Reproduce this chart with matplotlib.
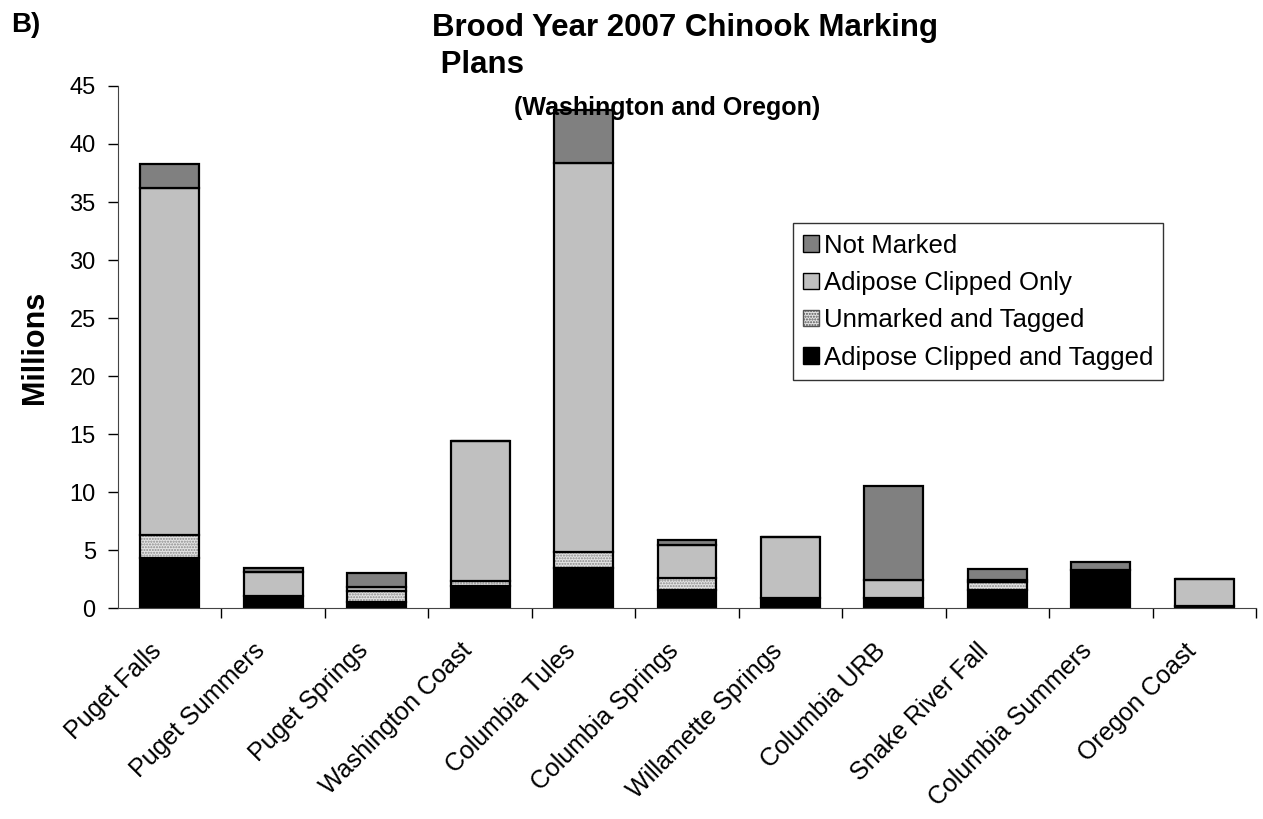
"""Brood year 2007 Chinook marking plans (Washington and Oregon), stacked bars."""

import matplotlib

matplotlib.use("Agg")
import matplotlib.pyplot as plt
import numpy as np
from matplotlib.patches import Patch

plt.rcParams["font.family"] = ["Liberation Sans", "DejaVu Sans"]

stocks = ["Puget Falls", "Puget Summers", "Puget Springs", "Washington Coast",
          "Columbia Tules", "Columbia Springs", "Willamette Springs",
          "Columbia URB", "Snake River Fall", "Columbia Summers", "Oregon Coast"]

# millions of fish, bottom to top of each stack
clipped_tagged = [4.3, 1.0, 0.55, 1.9, 3.47, 1.57, 0.86, 0.86, 1.58, 3.25, 0.15]
unmarked_tagged = [2.0, 0.05, 0.95, 0.4, 1.33, 1.0, 0.0, 0.0, 0.7, 0.0, 0.0]
clipped_only = [29.9, 2.05, 0.35, 12.1, 33.6, 2.85, 5.26, 1.53, 0.1, 0.0, 2.38]
not_marked = [2.1, 0.35, 1.2, 0.0, 4.5, 0.42, 0.0, 8.1, 1.0, 0.69, 0.0]

DARK = "#808080"
LIGHT = "#c0c0c0"
DOTS = "#e4e4e4"

fig = plt.figure(figsize=(12.63, 8.19), dpi=100)
ax = fig.add_axes([0.0934, 0.2576, 0.9011, 0.6374])

x = np.arange(len(stocks))
w = 0.57
kw = dict(width=w, edgecolor="black", linewidth=1.6)
bottom = np.zeros(len(stocks))

ax.bar(x, clipped_tagged, bottom=bottom, color="black", **kw)
bottom += clipped_tagged
# dotted fill: hatch drawn in grey, outline drawn separately in black
ax.bar(x, unmarked_tagged, bottom=bottom, width=w, color=DOTS,
       hatch="......", edgecolor="#8a8a8a", linewidth=0)
ax.bar(x, unmarked_tagged, bottom=bottom, width=w, fill=False,
       edgecolor="black", linewidth=1.6)
bottom += unmarked_tagged
ax.bar(x, clipped_only, bottom=bottom, color=LIGHT, **kw)
bottom += clipped_only
ax.bar(x, not_marked, bottom=bottom, color=DARK, **kw)

ax.set_xlim(-0.5, len(stocks) - 0.5)
ax.set_ylim(0, 45)
ax.set_yticks(range(0, 46, 5))
ax.tick_params(axis="y", labelsize=17, direction="out", length=7, width=1,
               pad=9)
ax.set_xticks(x - 0.2)
ax.set_xticklabels(stocks, rotation=45, ha="right", rotation_mode="anchor",
                   fontsize=18)
ax.tick_params(axis="x", length=0, pad=22)
ax.set_xticks(np.arange(len(stocks)) + 0.5, minor=True)
ax.tick_params(axis="x", which="minor", length=7, width=1, direction="out")

for side in ("top", "right"):
    ax.spines[side].set_visible(False)
ax.spines["left"].set_color("#444444")
ax.spines["bottom"].set_color("#444444")

ax.set_ylabel("Millions", fontsize=22, fontweight="bold", labelpad=14)

fig.text(0.009, 0.970, "B)", fontsize=20, fontweight="bold", va="center")
fig.text(0.342, 0.966, "Brood Year 2007 Chinook Marking", fontsize=22.5,
         fontweight="bold", va="center", ha="left")
fig.text(0.342, 0.921, " Plans", fontsize=22.5, fontweight="bold",
         va="center", ha="left")
fig.text(0.528, 0.868, "(Washington and Oregon)", fontsize=18,
         fontweight="bold", ha="center", va="center")

handles = [
    Patch(facecolor=DARK, edgecolor="black", label="Not Marked"),
    Patch(facecolor=LIGHT, edgecolor="black", label="Adipose Clipped Only"),
    Patch(facecolor=DOTS, edgecolor="#555555", hatch="......",
          label="Unmarked and Tagged"),
    Patch(facecolor="black", edgecolor="black",
          label="Adipose Clipped and Tagged"),
]
leg = ax.legend(handles=handles, loc="upper left",
                bbox_to_anchor=(0.593, 0.737), fontsize=18.5, frameon=True,
                fancybox=False, edgecolor="black", handlelength=0.6,
                handleheight=0.6, handletextpad=0.2, labelspacing=0.52,
                borderpad=0.4, borderaxespad=0)
leg.get_frame().set_linewidth(1)

fig.savefig("out.png", dpi=100)
